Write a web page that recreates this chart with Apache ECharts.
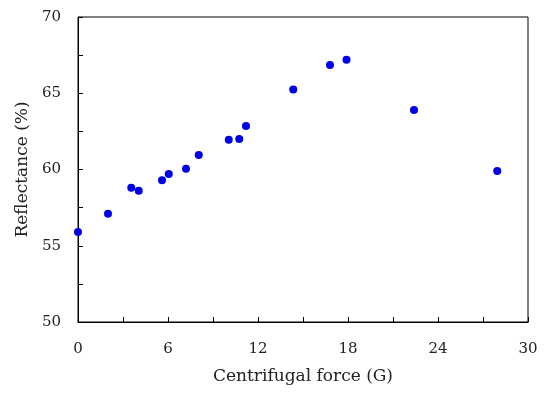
<!DOCTYPE html>
<html><head><meta charset="utf-8">
<script src="https://cdn.jsdelivr.net/npm/echarts@6/dist/echarts.min.js"></script>
<style>html,body{margin:0;padding:0;background:#fff}#c{width:550px;height:394px}</style>
</head><body><div id="c"></div>
<script>
const forceG = [0, 2.0, 3.55, 4.05, 5.6, 6.05, 7.2, 8.05, 10.05, 10.75, 11.2, 14.35, 16.8, 17.9, 22.4, 27.95];
const reflectance = [55.9, 57.1, 58.8, 58.6, 59.3, 59.7, 60.05, 60.95, 61.95, 62.0, 62.85, 65.25, 66.85, 67.2, 63.9, 59.9];
const xTitle = 'Centrifugal force (G)';
const yTitle = 'Reflectance (%)';

const pts = forceG.map((x, i) => [x, reflectance[i]]);
const font = '"DejaVu Serif", "Liberation Serif", serif';
const chart = echarts.init(document.getElementById('c'));
chart.setOption({
  animation: false,
  grid: {left: 78, right: 22, top: 17, bottom: 72, show: true, borderColor: '#000', borderWidth: 1, backgroundColor: 'transparent'},
  xAxis: {
    type: 'value', min: 0, max: 30, interval: 3,
    name: xTitle, nameLocation: 'middle', nameGap: 46,
    nameTextStyle: {fontFamily: font, fontSize: 17, color: '#222'},
    axisLine: {lineStyle: {color: '#000', width: 1}},
    axisTick: {inside: true, length: 5, lineStyle: {color: '#000'}},
    splitLine: {show: false},
    axisLabel: {fontFamily: font, fontSize: 15, color: '#222', margin: 20,
      formatter: v => (v % 6 === 0 ? String(v) : '')}
  },
  yAxis: {
    type: 'value', min: 50, max: 70, interval: 2.5,
    name: yTitle, nameLocation: 'middle', nameGap: 44,
    nameTextStyle: {fontFamily: font, fontSize: 17, color: '#222'},
    axisLine: {lineStyle: {color: '#000', width: 1}},
    axisTick: {inside: true, length: 5, lineStyle: {color: '#000'}},
    splitLine: {show: false},
    axisLabel: {fontFamily: font, fontSize: 15, color: '#222', margin: 17,
      formatter: v => (v % 5 === 0 ? String(v) : '')}
  },
  series: [{
    type: 'scatter', data: pts, symbolSize: 8,
    itemStyle: {color: '#0000e8', opacity: 1}
  }]
});
</script></body></html>
